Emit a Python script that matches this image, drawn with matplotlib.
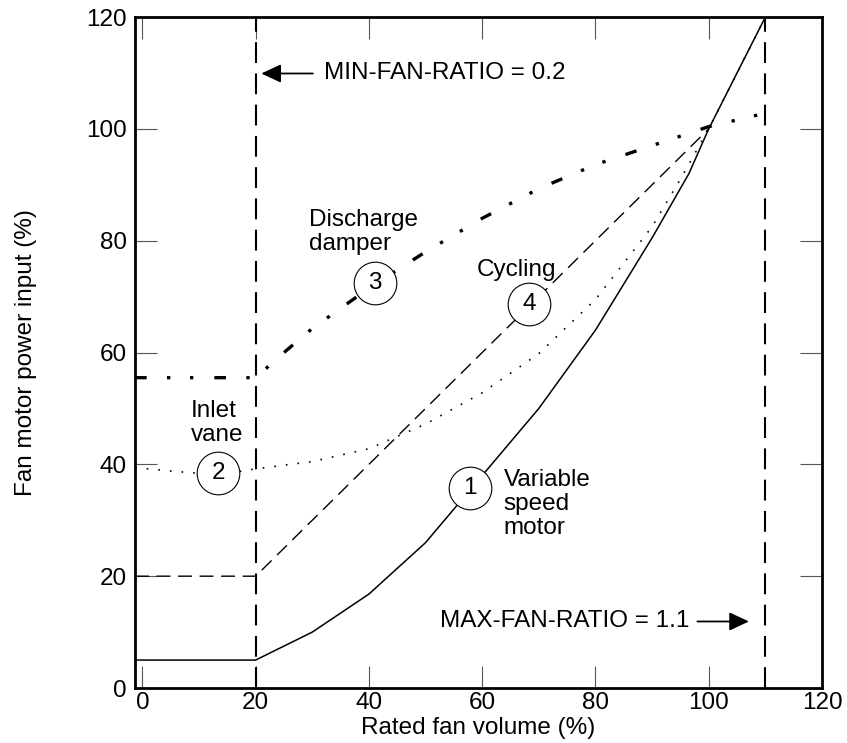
import matplotlib
matplotlib.use('Agg')
import matplotlib.pyplot as plt

plt.rcParams['font.family'] = ['Liberation Sans', 'DejaVu Sans']

X_LEFT, X_RIGHT = -1.3, 119.5

# 1 - variable speed motor
vs_x = [X_LEFT, 20, 30, 40, 50, 60, 70, 80, 90, 96.5, 100, 110]
vs_y = [5, 5, 10, 16.8, 26, 38, 50, 64, 80.5, 92, 100, 120]

# 2 - inlet vane
iv_x = [X_LEFT, 0, 5, 10, 15, 20, 30, 40, 50, 60, 70, 80, 90, 95, 100, 105, 110]
iv_y = [39.4, 39.3, 38.8, 38.4, 38.4, 39.2, 40.5, 42.8, 47.2, 52.8, 59.8, 69.5, 82.5, 91, 100, 110, 120]

# 3 - discharge damper
dd_x = [X_LEFT, 20, 25, 30, 40, 50, 60, 70, 80, 90, 100, 110]
dd_y = [55.5, 55.5, 60, 64.3, 71.5, 78, 84, 89.3, 93.6, 97, 100.4, 102.8]

# 4 - cycling
cy_x = [X_LEFT, 20, 100]
cy_y = [20, 20, 100]

min_ratio_x = 20
max_ratio_x = 110

# circled numbers: (label, x, y)
circles = [('1', 57.9, 35.8), ('2', 13.4, 38.5), ('3', 41.0, 72.4), ('4', 68.3, 68.7)]

ticks = [0, 20, 40, 60, 80, 100, 120]

fig = plt.figure(figsize=(8.47, 7.43), dpi=100)
ax = fig.add_axes([0.1594, 0.0740, 0.8111, 0.9031])

ax.plot(vs_x, vs_y, color='k', lw=1.1, solid_capstyle='butt')
ax.plot(iv_x, iv_y, color='k', lw=1.2, linestyle=(0, (1, 6)))
ax.plot(dd_x, dd_y, color='k', lw=2.4, linestyle=(0, (3.5, 6.1, 1.0, 5.9, 1.0, 6.3)))
ax.plot(cy_x, cy_y, color='k', lw=1.0, linestyle=(0, (10, 5.5)))

ax.axvline(min_ratio_x, color='k', lw=1.5, linestyle=(0, (10, 5)))
ax.axvline(max_ratio_x, color='k', lw=1.5, linestyle=(0, (10, 5)))

fs = 17.5

for lab, cx, cyy in circles:
    ax.plot(cx, cyy, 'o', ms=30.7, mfc='white', mec='k', mew=0.8, zorder=5)
    ax.text(cx, cyy, lab, ha='center', va='center', fontsize=fs, zorder=6)

ax.text(29.5, 81.6, 'Discharge\ndamper', ha='left', va='center', fontsize=fs, linespacing=1.1)
ax.text(59.1, 74.7, 'Cycling', ha='left', va='center', fontsize=fs)
ax.text(8.5, 47.4, 'Inlet\nvane', ha='left', va='center', fontsize=fs, linespacing=1.1)
ax.text(63.8, 32.9, 'Variable\nspeed\nmotor', ha='left', va='center', fontsize=fs, linespacing=1.1)

arrow_style = dict(arrowstyle='-|>,head_length=0.6,head_width=0.28',
                   mutation_scale=20, color='k', lw=1.3, shrinkA=0, shrinkB=0)
ax.annotate('', xy=(21.0, 109.9), xytext=(30.1, 109.9), arrowprops=arrow_style)
ax.text(32.0, 109.9, 'MIN-FAN-RATIO = 0.2', ha='left', va='center', fontsize=fs)

ax.annotate('', xy=(107.1, 11.9), xytext=(98.0, 11.9), arrowprops=arrow_style)
ax.text(52.6, 11.9, 'MAX-FAN-RATIO = 1.1', ha='left', va='center', fontsize=fs)

ax.set_xlim(X_LEFT, X_RIGHT)
ax.set_ylim(0, 120)
ax.set_xticks(ticks)
ax.set_yticks(ticks)
ax.tick_params(direction='in', length=16, width=0.8, color='#555555',
               top=True, right=True, labelsize=fs)
ax.tick_params(axis='x', pad=3)
ax.tick_params(axis='y', pad=6)
for s in ax.spines.values():
    s.set_linewidth(2.0)

ax.set_xlabel('Rated fan volume (%)', fontsize=fs)
ax.set_ylabel('Fan motor power input (%)', fontsize=fs)
ax.xaxis.set_label_coords(0.5, -0.043)
ax.yaxis.set_label_coords(-0.143, 0.5)

fig.savefig('out.png', dpi=100)
